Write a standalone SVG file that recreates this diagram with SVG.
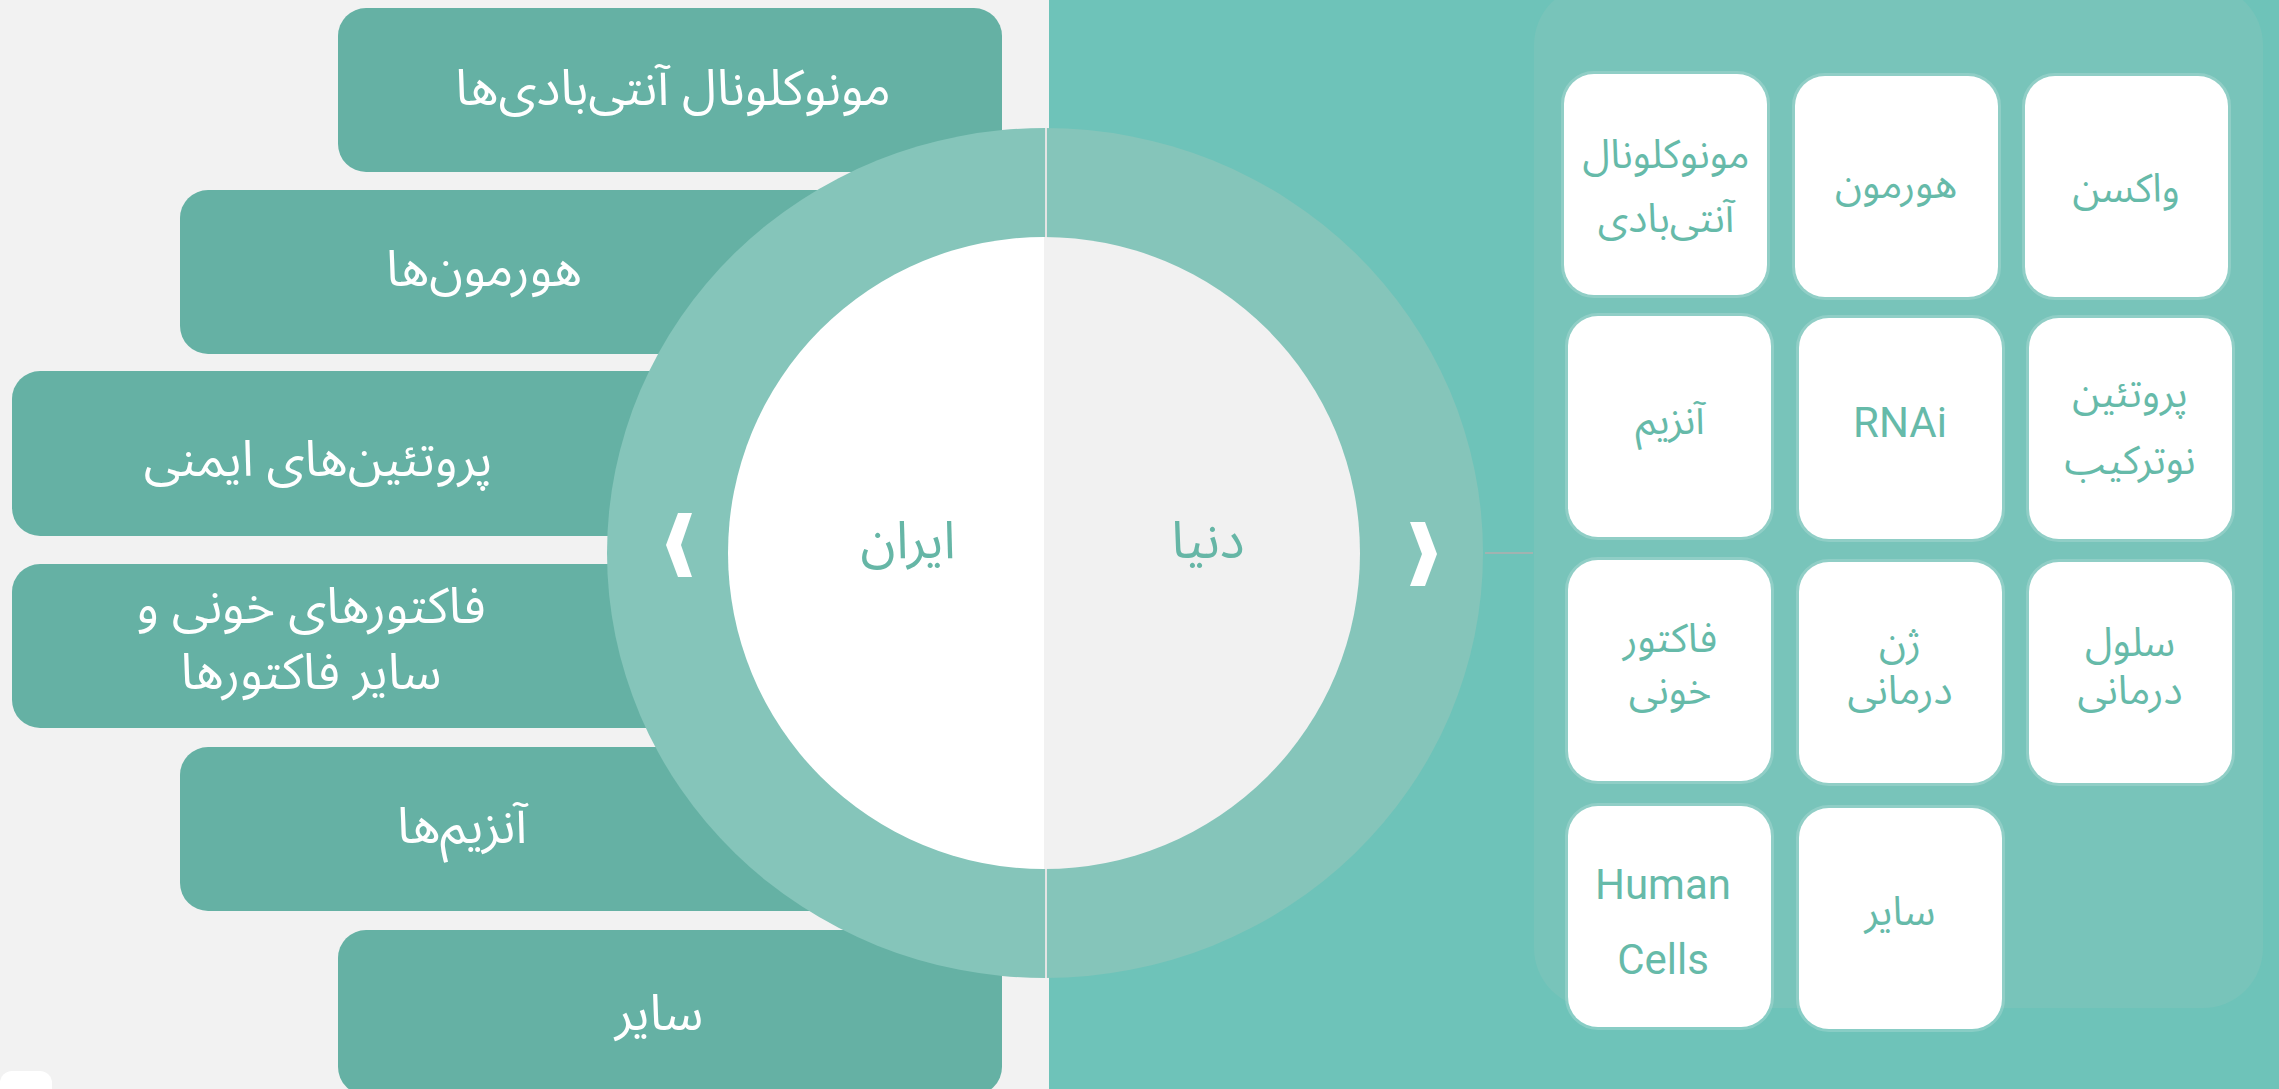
<svg xmlns="http://www.w3.org/2000/svg" width="2279" height="1089" viewBox="0 0 2279 1089">
<style>
.lbox{fill:#65b1a4}
.ltxt{fill:#ffffff;font-family:"Noto Sans Arabic","DejaVu Sans",sans-serif;font-size:50px;text-anchor:middle}
.card{fill:#ffffff;stroke:#ffffff;stroke-opacity:0.18;stroke-width:6}
.ctxt{fill:#66baa9;font-family:"Noto Sans Arabic","DejaVu Sans",sans-serif;font-size:40px;text-anchor:middle}
.etxt{fill:#66baa9;font-family:Roboto,"Liberation Sans",sans-serif;font-size:42px;text-anchor:middle}
.mtxt{fill:#66b6a6;font-family:"Noto Sans Arabic","DejaVu Sans",sans-serif;font-size:52px;text-anchor:middle}
</style>
<rect x="0" y="0" width="2279" height="1089" fill="#f2f2f2"/>
<rect x="1049" y="0" width="1230" height="1089" fill="#6ec3b9"/>
<rect x="0" y="1071" width="52" height="30" rx="12" fill="#ffffff"/>

<g id="left-monoclonal"><rect class="lbox" x="338" y="8" width="664" height="164" rx="28"/><text class="ltxt" x="673" y="105">مونوکلونال آنتی&#8204;بادی&#8204;ها</text></g>
<g id="left-hormones"><rect class="lbox" x="180" y="190" width="822" height="164" rx="28"/><text class="ltxt" x="484" y="286">هورمون&#8204;ها</text></g>
<g id="left-immune"><rect class="lbox" x="12" y="371" width="990" height="165" rx="28"/><text class="ltxt" x="318" y="476">پروتئین&#8204;های ایمنی</text></g>
<g id="left-factors"><rect class="lbox" x="12" y="564" width="990" height="164" rx="28"/><text class="ltxt"><tspan x="311" y="623">فاکتورهای خونی و</tspan><tspan x="311" y="689">سایر فاکتورها</tspan></text></g>
<g id="left-enzymes"><rect class="lbox" x="180" y="747" width="822" height="164" rx="28"/><text class="ltxt" x="462" y="843">آنزیم&#8204;ها</text></g>
<g id="left-other"><rect class="lbox" x="338" y="930" width="664" height="165" rx="28"/><text class="ltxt" x="659" y="1030">سایر</text></g>

<g id="center">
<ellipse cx="1045" cy="553" rx="438" ry="425" fill="#85c5ba"/>
<line x1="1046" y1="128" x2="1046" y2="240" stroke="#e4e4e4" stroke-width="2"/>
<line x1="1046" y1="866" x2="1046" y2="978" stroke="#e4e4e4" stroke-width="2"/>
<path d="M1044,237 A316,316 0 0,0 1044,869 Z" fill="#ffffff"/>
<path d="M1044,237 A316,316 0 0,1 1044,869 Z" fill="#f1f1f1"/>
<polygon points="678,513 692,513 681,545 692,577 678,577 666,545" fill="#ffffff"/>
<polygon points="1410,522 1425,522 1437,554 1425,586 1410,586 1422,554" fill="#ffffff"/>
</g>
<g id="iran"><text class="mtxt" x="908" y="558">ایران</text></g>
<g id="world"><text class="mtxt" x="1208" y="558">دنیا</text></g>

<g id="connectors"><line x1="1485" y1="553" x2="1533" y2="553" stroke="#d4a3a8" stroke-width="1"/></g>

<g id="panel"><rect x="1534" y="-15" width="729" height="1023" rx="60" fill="#78c4ba"/></g>

<g id="card-monoclonal"><rect class="card" x="1564" y="74" width="203" height="221" rx="30"/><text class="ctxt"><tspan x="1666" y="168">مونوکلونال</tspan><tspan x="1666" y="232">آنتی&#8204;بادی</tspan></text></g>
<g id="card-hormone"><rect class="card" x="1795" y="76" width="203" height="221" rx="30"/><text class="ctxt" x="1896" y="198">هورمون</text></g>
<g id="card-vaccine"><rect class="card" x="2025" y="76" width="203" height="221" rx="30"/><text class="ctxt" x="2126" y="202">واکسن</text></g>
<g id="card-enzyme"><rect class="card" x="1568" y="316" width="203" height="221" rx="30"/><text class="ctxt" x="1670" y="434">آنزیم</text></g>
<g id="card-rnai"><rect class="card" x="1799" y="318" width="203" height="221" rx="30"/><text class="etxt" x="1900" y="437">RNAi</text></g>
<g id="card-recombinant"><rect class="card" x="2029" y="318" width="203" height="221" rx="30"/><text class="ctxt"><tspan x="2130" y="407">پروتئین</tspan><tspan x="2130" y="474">نوترکیب</tspan></text></g>
<g id="card-blood"><rect class="card" x="1568" y="560" width="203" height="221" rx="30"/><text class="ctxt"><tspan x="1670" y="652">فاکتور</tspan><tspan x="1670" y="704">خونی</tspan></text></g>
<g id="card-gene"><rect class="card" x="1799" y="562" width="203" height="221" rx="30"/><text class="ctxt"><tspan x="1900" y="656">ژن</tspan><tspan x="1900" y="704">درمانی</tspan></text></g>
<g id="card-cell"><rect class="card" x="2029" y="562" width="203" height="221" rx="30"/><text class="ctxt"><tspan x="2130" y="656">سلول</tspan><tspan x="2130" y="704">درمانی</tspan></text></g>
<g id="card-human"><rect class="card" x="1568" y="806" width="203" height="221" rx="30"/><text class="etxt"><tspan x="1663" y="899">Human</tspan><tspan x="1663" y="974">Cells</tspan></text></g>
<g id="card-other"><rect class="card" x="1799" y="808" width="203" height="221" rx="30"/><text class="ctxt" x="1900" y="925">سایر</text></g>
</svg>
